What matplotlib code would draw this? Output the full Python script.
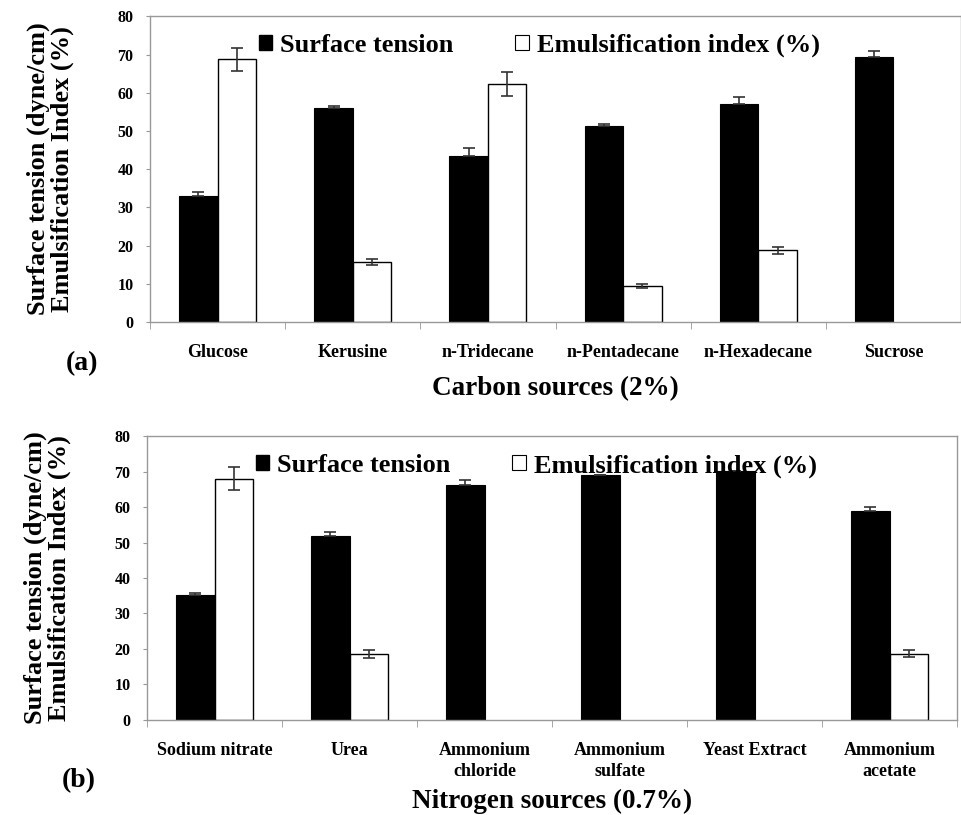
import matplotlib

matplotlib.use("Agg")
import matplotlib.pyplot as plt
import numpy as np
from matplotlib.patches import Patch

plt.rcParams["font.family"] = ["Liberation Serif", "DejaVu Serif"]
plt.rcParams["font.weight"] = "bold"

carbon = ["Glucose", "Kerusine", "n-Tridecane", "n-Pentadecane", "n-Hexadecane", "Sucrose"]
carbon_st = [33.0, 56.0, 43.5, 51.3, 57.0, 69.4]
carbon_st_err = [0.9, 0.6, 2.0, 0.5, 1.8, 1.5]
carbon_ei = [68.8, 15.6, 62.3, 9.4, 18.7, 0.0]
carbon_ei_err = [3.0, 0.8, 3.1, 0.4, 0.8, 0.0]

nitrogen = ["Sodium nitrate", "Urea", "Ammonium\nchloride", "Ammonium\nsulfate",
            "Yeast Extract", "Ammonium\nacetate"]
nitrogen_st = [35.1, 51.8, 66.2, 69.0, 70.2, 59.0]
nitrogen_st_err = [0.6, 1.3, 1.3, 0.0, 0.0, 0.9]
nitrogen_ei = [68.0, 18.7, 0.0, 0.0, 0.0, 18.7]
nitrogen_ei_err = [3.3, 1.1, 0.0, 0.0, 0.0, 1.0]

yticks = [0, 10, 20, 30, 40, 50, 60, 70, 80]
ylabel = "Surface tension (dyne/cm)\nEmulsification Index (%)"

fig = plt.figure(figsize=(9.62, 8.15), dpi=100)
ax_a = fig.add_axes([0.156, 0.605, 0.843, 0.375])
ax_b = fig.add_axes([0.153, 0.1166, 0.842, 0.3484])


def draw_panel(ax, cats, st, st_err, ei, ei_err, xlabel, tag, tag_y, xpad):
    x = np.arange(len(cats))
    w = 0.285
    ax.bar(x - w / 2, st, w, color="black", edgecolor="black", linewidth=0.8, zorder=2)
    ax.errorbar(x - w / 2, st, yerr=[np.zeros(len(st)), st_err], fmt="none",
                ecolor="#333333", elinewidth=1.2, capsize=4, capthick=1.2, zorder=3)
    ei_arr = np.array(ei)
    mask = ei_arr > 0
    ax.bar(x[mask] + w / 2, ei_arr[mask], w, color="white", edgecolor="black",
           linewidth=1.0, zorder=2)
    ax.errorbar(x[mask] + w / 2, ei_arr[mask], yerr=np.array(ei_err)[mask], fmt="none",
                ecolor="#333333", elinewidth=1.2, capsize=4, capthick=1.2, zorder=3)

    ax.set_xlim(-0.5, len(cats) - 0.5)
    ax.set_ylim(0, 80)
    ax.set_yticks(yticks)
    ax.set_yticklabels([str(v) for v in yticks], fontsize=11.5, fontweight="bold")
    ax.set_xticks(x)
    ax.set_xticklabels(cats, fontsize=13, fontweight="bold", linespacing=1.3, va="top")
    ax.tick_params(axis="x", which="major", length=0, pad=16)
    ax.set_xticks(np.arange(len(cats) + 1) - 0.5, minor=True)
    ax.tick_params(axis="x", which="minor", length=5, color="#999999", direction="out")
    ax.tick_params(axis="y", length=3, color="#999999", pad=9)
    for s in ax.spines.values():
        s.set_color("#999999")
        s.set_linewidth(1.0)
    ax.set_xlabel(xlabel, fontsize=19.5, fontweight="bold", labelpad=xpad)
    ax.set_ylabel(ylabel, fontsize=19, fontweight="bold", linespacing=1.05)
    ax.yaxis.set_label_coords(-0.094, 0.5)
    ax.text(-0.084, tag_y, tag, transform=ax.transAxes, fontsize=20,
            fontweight="bold", ha="center", va="center")

    handles = [Patch(facecolor="black", edgecolor="black"),
               Patch(facecolor="white", edgecolor="black", linewidth=0.8)]
    leg = ax.legend(handles, ["Surface tension", "Emulsification index (%)"], ncol=2,
                    loc="upper left", bbox_to_anchor=(0.105, 1.02), frameon=False,
                    handlelength=0.5, handleheight=0.5, handletextpad=0.3,
                    columnspacing=2.35, prop={"size": 19, "weight": "bold"})
    leg.set_zorder(5)


draw_panel(ax_a, carbon, carbon_st, carbon_st_err, carbon_ei, carbon_ei_err,
           "Carbon sources (2%)", "(a)", -0.135, 11)
draw_panel(ax_b, nitrogen, nitrogen_st, nitrogen_st_err, nitrogen_ei, nitrogen_ei_err,
           "Nitrogen sources (0.7%)", "(b)", -0.215, 6)

fig.savefig("out.png", dpi=100)
plt.close(fig)
